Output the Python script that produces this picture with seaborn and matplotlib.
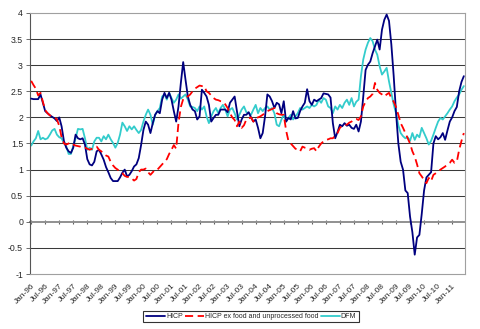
import numpy as np
import pandas as pd
import matplotlib
matplotlib.use("Agg")
import matplotlib.pyplot as plt
import seaborn as sns

# ---- data (monthly, Jan-96 .. Jun-11) ----
hicp = [
    2.36, 2.35, 2.35, 2.35, 2.44, 2.28, 2.12, 2.08, 2.04, 2.01, 1.98, 1.93,
    2.00, 1.83, 1.55, 1.42, 1.35, 1.32, 1.42, 1.67, 1.60, 1.58, 1.60, 1.48,
    1.20, 1.10, 1.08, 1.15, 1.35, 1.38, 1.29, 1.19, 1.05, 0.95, 0.84, 0.78,
    0.78, 0.78, 0.85, 0.94, 1.00, 0.87, 0.90, 0.97, 1.06, 1.10, 1.22, 1.47,
    1.76, 1.92, 1.86, 1.70, 1.89, 2.05, 2.12, 2.08, 2.34, 2.47, 2.37, 2.47,
    2.34, 2.12, 1.92, 2.21, 2.66, 3.06, 2.72, 2.40, 2.24, 2.15, 2.12, 1.96,
    2.02, 2.53, 2.47, 2.40, 2.24, 1.92, 1.99, 2.05, 2.05, 2.15, 2.15, 2.15,
    2.10, 2.28, 2.34, 2.40, 2.12, 1.83, 1.96, 2.05, 2.05, 2.10, 2.00, 1.92,
    1.96, 1.80, 1.60, 1.70, 2.02, 2.44, 2.40, 2.31, 2.18, 2.28, 2.25, 2.08,
    2.31, 1.92, 1.99, 1.96, 2.12, 1.98, 1.99, 2.12, 2.21, 2.28, 2.54, 2.31,
    2.24, 2.34, 2.31, 2.34, 2.37, 2.46, 2.45, 2.44, 2.38, 1.89, 1.60, 1.72,
    1.86, 1.83, 1.89, 1.84, 1.86, 1.80, 1.78, 1.86, 1.73, 1.92, 2.40, 2.91,
    3.01, 3.07, 3.23, 3.36, 3.49, 3.30, 3.68, 3.87, 3.97, 3.85, 3.40, 2.80,
    2.10, 1.50, 1.15, 1.00, 0.60, 0.55, 0.10, -0.20, -0.63, -0.30, -0.25, 0.15,
    0.60, 0.85, 0.90, 0.95, 1.50, 1.64, 1.58, 1.62, 1.70, 1.57, 1.75, 1.92,
    2.00, 2.12, 2.20, 2.50, 2.68, 2.79,
]

hicp_ex = [
    2.70, 2.62, 2.55, 2.42, 2.47, 2.30, 2.14, 2.08, 2.04, 2.02, 2.00, 1.96,
    1.84, 1.62, 1.50, 1.48, 1.50, 1.52, 1.48, 1.46, 1.45, 1.44, 1.42, 1.42,
    1.40, 1.38, 1.40, 1.42, 1.44, 1.38, 1.35, 1.30, 1.27, 1.25, 1.15, 1.08,
    1.03, 1.00, 0.95, 0.93, 0.88, 0.86, 0.86, 0.83, 0.79, 0.82, 0.95, 1.00,
    1.00, 1.02, 0.95, 0.90, 0.95, 1.00, 1.00, 1.05, 1.10, 1.15, 1.20, 1.30,
    1.38, 1.47, 1.40, 1.90, 2.20, 2.35, 2.40, 2.40, 2.44, 2.50, 2.55, 2.58,
    2.61, 2.60, 2.60, 2.50, 2.47, 2.42, 2.37, 2.34, 2.33, 2.31, 2.30, 2.25,
    2.18, 2.08, 2.00, 1.95, 1.83, 1.92, 1.80, 1.85, 1.96, 1.98, 2.00, 1.92,
    1.99, 2.00, 2.02, 2.05, 2.08, 2.12, 2.14, 2.16, 2.18, 2.08, 2.06, 2.05,
    2.05, 1.75, 1.55, 1.50, 1.45, 1.40, 1.38, 1.35, 1.44, 1.42, 1.41, 1.38,
    1.40, 1.41, 1.35, 1.44, 1.50, 1.54, 1.57, 1.58, 1.60, 1.60, 1.65, 1.70,
    1.80, 1.84, 1.86, 1.86, 1.90, 1.92, 1.96, 1.97, 1.95, 2.02, 2.21, 2.30,
    2.37, 2.40, 2.45, 2.66, 2.53, 2.47, 2.44, 2.40, 2.44, 2.47, 2.37, 2.30,
    2.20, 2.05, 1.89, 1.80, 1.70, 1.60, 1.50, 1.35, 1.25, 1.10, 0.93, 0.87,
    0.80, 0.74, 0.84, 0.78, 0.90, 0.93, 0.96, 1.00, 1.03, 1.06, 1.10, 1.13,
    1.19, 1.13, 1.15, 1.38, 1.55, 1.70,
]

dfm = [
    1.46, 1.54, 1.60, 1.74, 1.58, 1.61, 1.58, 1.60, 1.67, 1.75, 1.78, 1.67,
    1.62, 1.60, 1.51, 1.45, 1.30, 1.30, 1.45, 1.60, 1.78, 1.77, 1.78, 1.60,
    1.38, 1.42, 1.38, 1.54, 1.61, 1.61, 1.54, 1.64, 1.58, 1.67, 1.58, 1.51,
    1.42, 1.51, 1.67, 1.90, 1.83, 1.74, 1.83, 1.77, 1.83, 1.76, 1.70, 1.76,
    1.92, 2.05, 2.15, 2.05, 1.86, 2.05, 2.12, 2.18, 2.40, 2.44, 2.34, 2.47,
    2.37, 2.28, 2.34, 2.44, 2.36, 2.40, 2.44, 2.34, 2.21, 2.20, 2.18, 2.12,
    2.21, 2.15, 2.21, 2.02, 1.89, 2.02, 2.12, 2.18, 2.08, 2.18, 2.24, 2.15,
    2.02, 2.15, 2.18, 2.08, 1.96, 2.05, 2.15, 2.21, 2.10, 2.08, 2.05, 2.15,
    2.24, 2.08, 2.18, 2.12, 2.18, 2.21, 2.15, 2.18, 2.08, 1.86, 1.83, 1.96,
    2.05, 1.92, 1.99, 2.05, 1.96, 2.02, 2.08, 2.18, 2.15, 2.18, 2.21, 2.18,
    2.24, 2.21, 2.24, 2.34, 2.28, 2.37, 2.34, 2.21, 2.18, 2.08, 2.21, 2.15,
    2.24, 2.18, 2.28, 2.34, 2.24, 2.37, 2.21, 2.30, 2.34, 2.79, 3.11, 3.30,
    3.43, 3.52, 3.46, 3.30, 3.20, 2.98, 2.82, 2.88, 2.95, 2.69, 2.47, 2.25,
    2.08, 1.85, 1.70, 1.64, 1.60, 1.62, 1.55, 1.70, 1.57, 1.67, 1.62, 1.80,
    1.70, 1.60, 1.48, 1.55, 1.67, 1.80, 1.92, 1.99, 1.96, 2.02, 2.08, 2.15,
    2.21, 2.31, 2.38, 2.44, 2.53, 2.60,
]

series_names = ["HICP", "HICP ex food and unprocessed food", "DFM"]
start_month = "1996-01"

# ---- figure ----
sns.set_theme(style="white")
plt.rcParams["font.family"] = ["Liberation Sans", "DejaVu Sans"]

fig = plt.figure(figsize=(4.81, 3.29), dpi=100)
ax = fig.add_axes([30 / 481, 1 - 274 / 329, 435 / 481, 261 / 329])

n = len(hicp)
dates = pd.date_range(start_month, periods=n, freq="MS")
xpos = np.arange(n) + 0.5
df = pd.DataFrame({"x": xpos, "HICP": hicp, "EX": hicp_ex, "DFM": dfm})

# gridlines
yt = np.arange(-1, 4.01, 0.5)
ax.set_ylim(-1, 4)
ax.set_xlim(0, n)
ax.set_yticks(yt)
ax.set_yticklabels([f"{v:g}" for v in yt], fontsize=6.3)
for v in yt:
    if v in (0, -1, 4):
        continue
    ax.axhline(v, color="#3a3a3a", lw=0.75, zorder=1)

sns.lineplot(data=df, x="x", y="HICP", ax=ax, color="#00007f", lw=1.3,
             label=series_names[0], zorder=3)
sns.lineplot(data=df, x="x", y="EX", ax=ax, color="#ff0000", lw=1.3,
             label=series_names[1], zorder=3, dashes=False)
ax.lines[-1].set_dashes([4.5, 2.5])
sns.lineplot(data=df, x="x", y="DFM", ax=ax, color="#33cccc", lw=1.3,
             label=series_names[2], zorder=2)

# x tick labels at bottom
tick_idx = np.arange(0, n, 6)
ax.set_xticks(xpos[tick_idx])
ax.set_xticklabels([dates[i].strftime("%b-%y") for i in tick_idx],
                   rotation=45, ha="right", rotation_mode="anchor", fontsize=6)
ax.tick_params(axis="x", length=0, pad=6)
ax.tick_params(axis="y", length=3, width=0.6, color="#555555", pad=2, left=True)
ax.set_xlabel("")
ax.set_ylabel("")

# category axis crossing at zero
sec = ax.secondary_xaxis(0.2)
sec.set_xticks(xpos[tick_idx])
sec.set_xticklabels([])
sec.tick_params(axis="x", direction="inout", length=3, width=0.8, color="#606060")
sec.spines["bottom"].set_color("#909090")
sec.spines["bottom"].set_linewidth(1.4)

for s in ["top", "right", "bottom"]:
    ax.spines[s].set_color("#a0a0a0")
    ax.spines[s].set_linewidth(0.8)
ax.spines["left"].set_color("#555555")
ax.spines["left"].set_linewidth(0.8)

ax.get_legend().remove()
h, l = ax.get_legend_handles_labels()
leg = fig.legend(h, l, loc="center", bbox_to_anchor=(251 / 481, 1 - 316.5 / 329),
                 ncol=3, fontsize=5, frameon=True, fancybox=False,
                 edgecolor="black", handlelength=2.8, handletextpad=0.1,
                 columnspacing=0.3, borderpad=0.35, borderaxespad=0)
leg.get_frame().set_linewidth(0.8)

fig.savefig("out.png", dpi=100)
